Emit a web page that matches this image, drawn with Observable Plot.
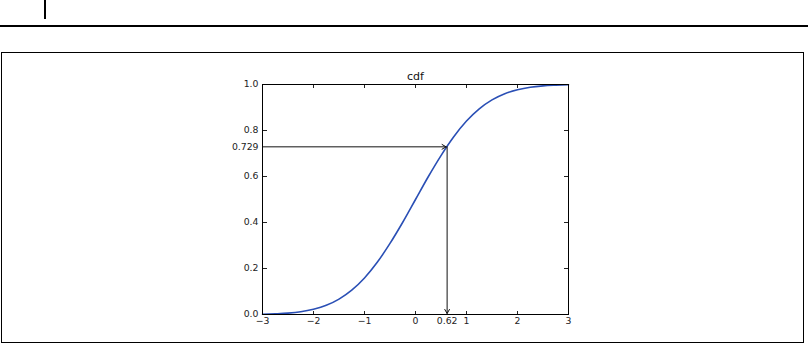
<!DOCTYPE html>
<html><head><meta charset="utf-8">
<script src="https://cdn.jsdelivr.net/npm/d3@7"></script>
<script src="https://cdn.jsdelivr.net/npm/@observablehq/plot@0.6"></script>
<style>
html,body{margin:0;padding:0;background:#fff;width:808px;height:344px;overflow:hidden;position:relative;font-family:"DejaVu Sans",sans-serif;}
#bar{position:absolute;left:44px;top:0;width:2px;height:19px;background:#000;}
#rule{position:absolute;left:0;top:25px;width:808px;height:1.5px;background:#000;}
#box{position:absolute;left:1px;top:52px;width:803px;height:291px;border:1.5px solid #000;box-sizing:border-box;z-index:2;pointer-events:none;}
#chart{position:absolute;left:0;top:0;}
</style></head><body>
<div id="bar"></div><div id="rule"></div><div id="box"></div>
<div id="chart"></div>
<script>
// curve points
const xs  = [-3,-2.75,-2.5,-2.25,-2,-1.75,-1.5,-1.25,-1,-0.75,-0.5,-0.25,0,0.25,0.5,0.75,1,1.25,1.5,1.75,2,2.25,2.5,2.75,3];
const cdf = [0.001,0.003,0.006,0.012,0.023,0.040,0.067,0.106,0.159,0.227,0.309,0.401,0.5,0.599,0.691,0.773,0.841,0.894,0.933,0.960,0.977,0.988,0.994,0.997,0.999];
const xTicks = [-3,-2,-1,0,1,2,3];
const yTicks = [0,0.2,0.4,0.6,0.8,1.0];
const markX = [0.62];
const markY = [0.729];
const title = "cdf";

const points = xs.map((x,i)=>({x, y: cdf[i]}));
const arrows = [
  {x1: xTicks[0], y1: markY[0], x2: markX[0], y2: markY[0]},
  {x1: markX[0], y1: markY[0], x2: markX[0], y2: yTicks[0]}
];
const fx = d => d < 0 ? "\u2212" + Math.abs(d) : String(d);
const fy = d => d === markY[0] ? String(d) : d.toFixed(1);
const ink = "#222";
const tickOpts = {tickSize: 4, fill: "none", label: null, stroke: ink};

const chart = Plot.plot({
  width: 808, height: 344,
  marginLeft: 262, marginRight: 240, marginTop: 84, marginBottom: 30,
  style: {background: "transparent", fontFamily: "DejaVu Sans", fontSize: "9px", color: ink},
  x: {domain: [-3, 3]},
  y: {domain: [0, 1]},
  marks: [
    Plot.axisX([...xTicks, ...markX], {anchor: "bottom", tickSize: 0, tickPadding: 3, tickFormat: fx, label: null, fill: ink, fontSize: 9.3}),
    Plot.axisY([...yTicks, ...markY], {anchor: "left", tickSize: 0, tickPadding: 4, tickFormat: fy, label: null, fill: ink, fontSize: 9.3}),
    Plot.axisX(xTicks, {...tickOpts, anchor: "top", frameAnchor: "bottom"}),
    Plot.axisX(xTicks, {...tickOpts, anchor: "bottom", frameAnchor: "top"}),
    Plot.axisY(yTicks, {...tickOpts, anchor: "right", frameAnchor: "left"}),
    Plot.axisY(yTicks, {...tickOpts, anchor: "left", frameAnchor: "right"}),
    Plot.line(points, {x: "x", y: "y", stroke: "#2a4fb5", strokeWidth: 1.6, curve: "monotone-x"}),
    Plot.arrow(arrows, {x1: "x1", y1: "y1", x2: "x2", y2: "y2", stroke: "#111", strokeWidth: 1, headLength: 7, headAngle: 60, insetEnd: 1}),
    Plot.frame({stroke: "#000", strokeWidth: 1}),
    Plot.text([title], {text: d => d, frameAnchor: "top", dy: -12, fontSize: 11, fill: "#111"})
  ]
});
document.getElementById("chart").appendChild(chart);
</script>
</body></html>
